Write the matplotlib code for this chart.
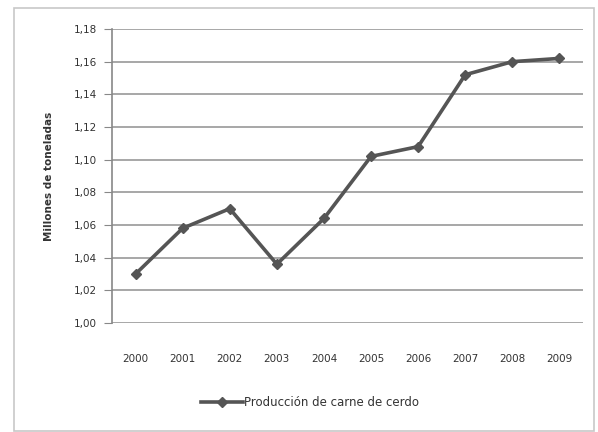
import matplotlib
matplotlib.use("Agg")
import matplotlib.pyplot as plt
from matplotlib.patches import Rectangle
from matplotlib.ticker import FuncFormatter

# Pork production, millions of tonnes
years = ["2000", "2001", "2002", "2003", "2004", "2005", "2006", "2007", "2008", "2009"]
production = [1.030, 1.058, 1.070, 1.036, 1.064, 1.102, 1.108, 1.152, 1.160, 1.162]
y_ticks = [1.00, 1.02, 1.04, 1.06, 1.08, 1.10, 1.12, 1.14, 1.16, 1.18]

LINE_COLOR = "#555555"
GRID_COLOR = "#a0a0a0"
TEXT_COLOR = "#333333"

W, H = 598, 432
fig = plt.figure(figsize=(W / 100, H / 100), dpi=100, facecolor="white")

# light frame around the chart area
fig.patches.append(Rectangle((14 / W, 1 - 431 / H), 580 / W, 423 / H,
                             transform=fig.transFigure, fill=False,
                             edgecolor="#c8c8c8", linewidth=1.2))

ax = fig.add_axes([112 / W, 1 - 323 / H, 471 / W, 294 / H])
x = list(range(len(years)))
line, = ax.plot(x, production, color=LINE_COLOR, linewidth=2.6, marker="D",
                markersize=5.5, markerfacecolor=LINE_COLOR, markeredgecolor=LINE_COLOR,
                label="Producción de carne de cerdo")

ax.set_xlim(-0.5, len(years) - 0.5)
ax.set_ylim(y_ticks[0], y_ticks[-1])
ax.set_yticks(y_ticks)
ax.yaxis.set_major_formatter(FuncFormatter(lambda v, _: f"{v:.2f}".replace(".", ",")))
ax.set_xticks(x)
ax.set_xticklabels(years)

ax.grid(axis="y", color=GRID_COLOR, linewidth=1.3)
ax.set_axisbelow(True)
for side in ("top", "right", "bottom"):
    ax.spines[side].set_visible(False)
ax.spines["left"].set_color("#888888")
ax.spines["left"].set_linewidth(1.2)
ax.tick_params(axis="y", length=6, color="#888888", labelsize=7.5, labelcolor=TEXT_COLOR, pad=5)
ax.tick_params(axis="x", length=0, labelsize=7.5, labelcolor=TEXT_COLOR, pad=22)

ax.set_ylabel("Millones de toneladas", fontsize=7.5, fontweight="bold", color=TEXT_COLOR, labelpad=14)

fig.legend(handles=[line], loc="center", bbox_to_anchor=(310 / W, 1 - 403 / H),
           frameon=False, fontsize=8.5, handlelength=3.6, handletextpad=0.1,
           labelcolor=TEXT_COLOR)

fig.savefig("out.png", dpi=100, facecolor="white")
